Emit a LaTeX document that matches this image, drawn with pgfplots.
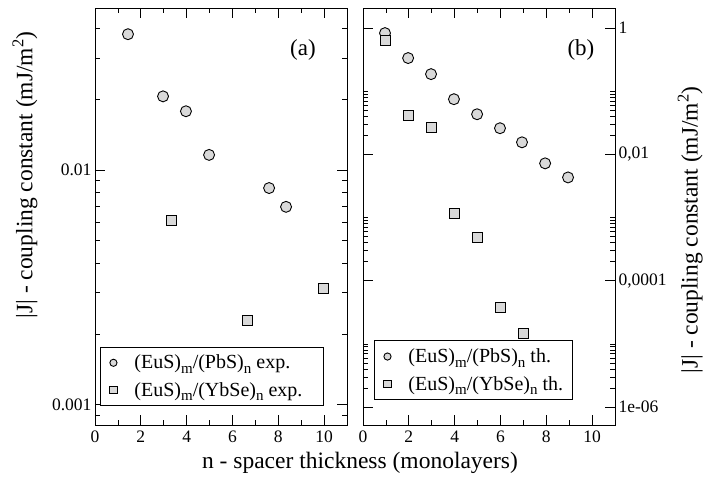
\documentclass[border=0pt]{standalone}
\usepackage{fontspec}
\setmainfont{Liberation Serif}
\usepackage{pgfplots}
\pgfplotsset{compat=1.18}

\newcommand\sub[1]{\raisebox{-0.5ex}{\fontsize{15}{15}\selectfont #1}}

\pgfplotsset{
  panel/.style={
    scale only axis, width=252pt, height=417pt,
    xmin=0, xmax=11, xtick={0,2,...,10}, minor xtick={1,3,...,11},
    tick align=inside,
    major tick length=10pt, minor tick length=5pt,
    every tick/.style={black, line width=0.7pt},
    axis line style={line width=0.8pt},
    ticklabel style={font=\fontsize{17.5}{20}\selectfont},
    xticklabel style={yshift=-2pt},
    label style={font=\fontsize{23.5}{27}\selectfont},
    legend style={draw=black, line width=0.8pt,
      font=\fontsize{20}{23}\selectfont,
      anchor=south west, row sep=8pt, inner xsep=1pt, inner ysep=6pt},
    legend cell align=left,
    /pgf/number format/assume math mode=true,
  },
  limg/.style={legend image code/.code={\path[draw=none,fill=none] (0pt,-3pt) rectangle (31pt,3pt);
      \draw[##1, mark size=3.6pt] plot coordinates {(12pt,0pt)};}},
  circ/.style={only marks, mark=*, mark size=5.5pt,
    mark options={fill=gray!30, draw=black, line width=0.9pt}, limg},
  sq/.style={only marks, mark=square*, mark size=5pt,
    mark options={fill=gray!30, draw=black, line width=0.9pt}, limg},
}

\begin{document}
\begin{tikzpicture}
% (a) experiment
\begin{axis}[panel, ymode=log,
  ymin=8.2e-4, ymax=0.049,
  ytick={0.001,0.01}, yticklabels={0.001,0.01},
  minor ytick={0.0009,0.002,0.003,0.004,0.005,0.006,0.007,0.008,0.009,0.02,0.03,0.04},
  ylabel={|J| - coupling constant (mJ/m\textsuperscript{2})},
  ylabel style={at={(axis description cs:-0.278,0.60)}, anchor=center},
  legend style={at={(axis description cs:0.02,0.045)}},
]
\addplot[circ] coordinates {(1.44,0.0379) (2.97,0.0206) (3.97,0.0178) (4.98,0.0116) (7.6,0.00838) (8.34,0.00697)};
\addlegendentry{(EuS)\sub{m}/(PbS)\sub{n} exp.\hspace{18pt}\mbox{}}
\addplot[sq] coordinates {(3.32,0.00607) (6.64,0.00228) (9.96,0.00312)};
\addlegendentry{(EuS)\sub{m}/(YbSe)\sub{n} exp.\hspace{18pt}\mbox{}}
\node[font=\fontsize{23}{27}\selectfont] at (axis description cs:0.825,0.9) {(a)};
\end{axis}
% (b) theory
\begin{axis}[panel, ymode=log, at={(268pt,0pt)},
  ymin=5.2e-7, ymax=2.07,
  ytick={1e-6,1e-4,0.01,1}, yticklabels={1e-06,{0,0001},{0,01},1},
  minor ytick={2e-6,3e-6,4e-6,5e-6,6e-6,7e-6,8e-6,9e-6,1e-5,
    2e-4,3e-4,4e-4,5e-4,6e-4,7e-4,8e-4,9e-4,1e-3,
    0.02,0.03,0.04,0.05,0.06,0.07,0.08,0.09,0.1},
  yticklabel pos=right,
  ylabel={|J| - coupling constant (mJ/m\textsuperscript{2})},
  ylabel style={at={(axis description cs:1.298,0.468)}, anchor=center},
  legend style={at={(axis description cs:0.044,0.06)}},
]
\addplot[circ] coordinates {(0.96,0.83) (1.97,0.334) (2.97,0.186) (3.97,0.0746) (4.98,0.0431) (5.98,0.0259) (6.94,0.0155) (7.95,0.0072) (8.95,0.00431)};
\addlegendentry{(EuS)\sub{m}/(PbS)\sub{n} th.\hspace{6pt}\mbox{}}
\addplot[sq] coordinates {(0.96,0.645) (1.97,0.0416) (2.97,0.0268) (3.97,0.00116) (4.98,0.000482) (5.98,3.72e-5) (6.99,1.44e-5)};
\addlegendentry{(EuS)\sub{m}/(YbSe)\sub{n} th.\hspace{6pt}\mbox{}}
\node[font=\fontsize{23}{27}\selectfont] at (axis description cs:0.865,0.9) {(b)};
\end{axis}
\node[font=\fontsize{23.5}{27}\selectfont] at (265pt,-38pt) {n - spacer thickness (monolayers)};
\pgfresetboundingbox
\path (-95pt,-63pt) rectangle (611pt,425pt);
\end{tikzpicture}
\end{document}
